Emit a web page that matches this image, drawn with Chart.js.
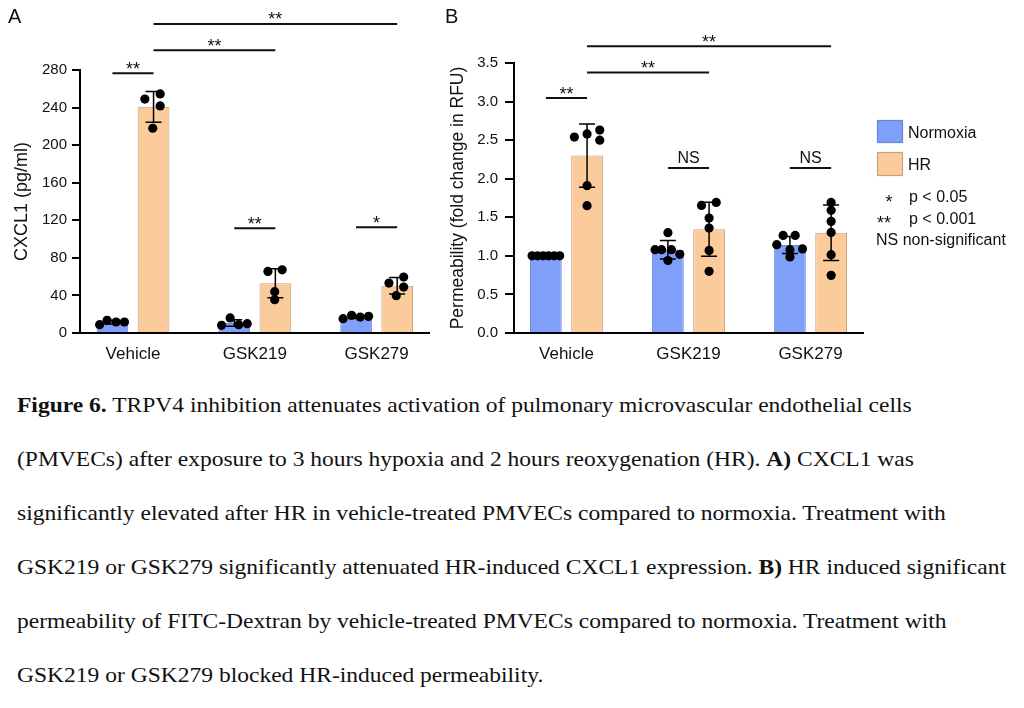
<!DOCTYPE html>
<html>
<head>
<meta charset="utf-8">
<script src="https://cdn.jsdelivr.net/npm/chart.js@4.4.1/dist/chart.umd.min.js"></script>
<style>
html,body{margin:0;padding:0;background:#fff;}
#wrap{position:relative;width:1024px;height:708px;overflow:hidden;background:#fff;}
#ca{position:absolute;left:0;top:0;}
#cb{position:absolute;left:440px;top:0;}
#cap{position:absolute;left:17px;top:378px;font-family:"Liberation Serif","Times New Roman",serif;font-size:21px;line-height:54.1px;color:#111;white-space:nowrap;transform:scaleX(1.12);transform-origin:0 0;}
#cap div{height:54.1px;}
</style>
</head>
<body>
<div id="wrap">
<canvas id="ca" width="440" height="375"></canvas>
<canvas id="cb" width="584" height="375"></canvas>
<div id="cap">
<div><b>Figure 6.</b> TRPV4 inhibition attenuates activation of pulmonary microvascular endothelial cells</div>
<div>(PMVECs) after exposure to 3 hours hypoxia and 2 hours reoxygenation (HR). <b>A)</b> CXCL1 was</div>
<div>significantly elevated after HR in vehicle-treated PMVECs compared to normoxia. Treatment with</div>
<div>GSK219 or GSK279 significantly attenuated HR-induced CXCL1 expression. <b>B)</b> HR induced significant</div>
<div>permeability of FITC-Dextran by vehicle-treated PMVECs compared to normoxia. Treatment with</div>
<div>GSK219 or GSK279 blocked HR-induced permeability.</div>
</div>
</div>
<script>
// ---------- data ----------
const categories = ['Vehicle', 'GSK219', 'GSK279'];
const seriesNames = ['Normoxia', 'HR'];

// Panel A: CXCL1 (pg/ml)
const cxclTicks = [0, 40, 80, 120, 160, 200, 240, 280];
const cxclNormoxiaMean = [11.5, 10.7, 17.0];
const cxclHRMean = [240.8, 53.0, 50.3];
const cxclNormoxiaSD = [2.0, 3.5, 1.5];
const cxclHRSD = [16.3, 15.5, 8.8];
const cxclNormoxiaPoints = [[8.9, 13.5, 11.7, 11.7], [8.2, 16.0, 8.9, 9.9], [15.2, 18.8, 17.0, 17.7]];
const cxclHRPoints = [[249.0, 254.5, 241.7, 218.0], [65.6, 67.3, 44.0, 35.4], [53.2, 59.5, 48.9, 39.7]];

// Panel B: Permeability (fold change in RFU)
const permTicks = [0, 0.5, 1.0, 1.5, 2.0, 2.5, 3.0, 3.5];
const permNormoxiaMean = [1.0, 1.08, 1.14];
const permHRMean = [2.30, 1.345, 1.30];
const permNormoxiaSD = [0, 0.12, 0.11];
const permHRSD = [0.41, 0.35, 0.36];
const permNormoxiaPoints = [[1, 1, 1, 1, 1, 1], [1.30, 1.08, 1.08, 1.08, 1.02, 0.94], [1.145, 1.265, 1.265, 1.09, 1.08, 0.985]];
const permHRPoints = [[2.54, 2.58, 2.63, 2.50, 1.91, 1.65], [1.654, 1.693, 1.49, 1.36, 1.07, 0.80], [1.693, 1.59, 1.447, 1.304, 1.015, 0.747]];

// significance annotations: [group, series] -> [group, series]
const cxclSig = [
  {from: [0, 0], to: [0, 1], y: 276.5, label: '**'},
  {from: [0, 1], to: [1, 1], y: 301, label: '**'},
  {from: [0, 1], to: [2, 1], y: 329, label: '**'},
  {from: [1, 0], to: [1, 1], y: 111.5, label: '**'},
  {from: [2, 0], to: [2, 1], y: 112.5, label: '*'}
];
const permSig = [
  {from: [0, 0], to: [0, 1], y: 3.046, label: '**'},
  {from: [0, 1], to: [1, 1], y: 3.378, label: '**'},
  {from: [0, 1], to: [2, 1], y: 3.716, label: '**'},
  {from: [1, 0], to: [1, 1], y: 2.14, label: 'NS'},
  {from: [2, 0], to: [2, 1], y: 2.14, label: 'NS'}
];

// horizontal spread of replicate dots (fraction of half bar width)
const cxclNormoxiaJitter = [[-0.81, -0.34, 0.23, 0.76], [-0.8, -0.26, 0.28, 0.82], [-0.82, -0.28, 0.26, 0.79]];
const cxclHRJitter = [[-0.55, 0.42, 0.42, -0.05], [-0.47, 0.43, -0.04, -0.04], [-0.52, 0.41, 0.41, -0.06]];
const permNormoxiaJitter = [[-0.87, -0.52, -0.17, 0.17, 0.52, 0.87], [0, -0.81, -0.4, 0.22, 0.75, 0], [-0.83, -0.43, 0.33, 0.79, 0, 0]];
const permHRJitter = [[-0.8, 0, 0.8, 0.8, 0, 0], [-0.48, 0.45, 0, 0, 0, 0], [0, 0, 0, 0, 0, 0]];

// ---------- style ----------
const FONT = '"Liberation Sans", Arial, Helvetica, sans-serif';
const INK = '#111';
const CAT_PCT = 0.675, BAR_PCT = 0.77;
const COLORS = {norm: '#7f9ffa', normBorder: '#6a86dc', hr: '#fbcb9c', hrBorder: '#c6a280'};

function barData(means) { return means.map((v, i) => ({x: i, y: v})); }
function dotData(points, jitter, side) {
  const off = side * CAT_PCT / 4, half = CAT_PCT * BAR_PCT / 4;
  const out = [];
  points.forEach((arr, i) => arr.forEach((v, k) => out.push({x: i + off + jitter[i][k] * half, y: v})));
  return out;
}

function annotPlugin(cfg) {
  return {
    id: 'annot_' + cfg.letter,
    afterDatasetsDraw(chart) {
      const ctx = chart.ctx, ys = chart.scales.y;
      ctx.save();
      ctx.strokeStyle = '#000';
      ctx.lineWidth = 1.5;
      cfg.sds.forEach((sdArr, ds) => {
        const meta = chart.getDatasetMeta(ds);
        meta.data.forEach((bar, i) => {
          const sd = sdArr[i];
          if (!sd) return;
          const m = chart.data.datasets[ds].data[i].y;
          const yt = ys.getPixelForValue(m + sd), yb = ys.getPixelForValue(m - sd);
          ctx.beginPath();
          ctx.moveTo(bar.x, yt); ctx.lineTo(bar.x, yb);
          ctx.moveTo(bar.x - 8, yt); ctx.lineTo(bar.x + 8, yt);
          ctx.moveTo(bar.x - 8, yb); ctx.lineTo(bar.x + 8, yb);
          ctx.stroke();
        });
      });
      ctx.restore();
    },
    afterDraw(chart) {
      const ctx = chart.ctx, ys = chart.scales.y;
      ctx.save();
      // significance brackets
      cfg.sig.forEach(b => {
        const x1 = chart.getDatasetMeta(b.from[1]).data[b.from[0]].x;
        const x2 = chart.getDatasetMeta(b.to[1]).data[b.to[0]].x;
        const yy = ys.getPixelForValue(b.y);
        ctx.strokeStyle = INK; ctx.lineWidth = 2;
        ctx.beginPath(); ctx.moveTo(x1, yy); ctx.lineTo(x2, yy); ctx.stroke();
        ctx.fillStyle = INK; ctx.textAlign = 'center'; ctx.textBaseline = 'alphabetic';
        if (b.label === 'NS') {
          ctx.font = '16px ' + FONT;
          ctx.fillText(b.label, (x1 + x2) / 2, yy - 5);
        } else {
          ctx.font = '18px ' + FONT;
          ctx.fillText(b.label, (x1 + x2) / 2, yy + 1.5);
        }
      });
      // panel letter
      ctx.fillStyle = INK; ctx.textAlign = 'left'; ctx.textBaseline = 'alphabetic';
      ctx.font = '20px ' + FONT;
      ctx.fillText(cfg.letter, cfg.letterX, 23);
      // key
      if (cfg.legend) {
        const L = cfg.legend;
        ctx.lineWidth = 1.2;
        ctx.fillStyle = COLORS.norm; ctx.fillRect(L.x, 120, 26, 23);
        ctx.strokeStyle = COLORS.normBorder; ctx.strokeRect(L.x + 0.5, 120.5, 25, 22);
        ctx.fillStyle = COLORS.hr; ctx.fillRect(L.x, 152, 26, 24);
        ctx.strokeStyle = COLORS.hrBorder; ctx.strokeRect(L.x + 0.5, 152.5, 25, 23);
        ctx.fillStyle = INK; ctx.font = '16px ' + FONT; ctx.textAlign = 'left';
        ctx.fillText(seriesNames[0], L.x + 31, 137.5);
        ctx.fillText(seriesNames[1], L.x + 31, 169.5);
        ctx.fillText('p < 0.05', L.x + 32, 202);
        ctx.fillText('p < 0.001', L.x + 32, 224);
        ctx.fillText('NS non-significant', L.x - 1, 244.5);
        ctx.font = '18px ' + FONT; ctx.textAlign = 'center';
        ctx.fillText('*', L.x + 12, 207.5);
        ctx.fillText('**', L.x + 7, 229);
      }
      ctx.restore();
    }
  };
}

function makeChart(canvasId, o) {
  return new Chart(document.getElementById(canvasId), {
    type: 'bar',
    data: {
      datasets: [
        {label: seriesNames[0], data: barData(o.normMean), backgroundColor: COLORS.norm, borderColor: COLORS.normBorder, borderWidth: 1, order: 2,
         categoryPercentage: CAT_PCT, barPercentage: BAR_PCT},
        {label: seriesNames[1], data: barData(o.hrMean), backgroundColor: COLORS.hr, borderColor: COLORS.hrBorder, borderWidth: 1, order: 2,
         categoryPercentage: CAT_PCT, barPercentage: BAR_PCT},
        {type: 'scatter', label: seriesNames[0] + ' replicates', data: dotData(o.normPts, o.normJit, -1), backgroundColor: '#000', borderWidth: 0, pointRadius: 4.6, order: 1, clip: false},
        {type: 'scatter', label: seriesNames[1] + ' replicates', data: dotData(o.hrPts, o.hrJit, 1), backgroundColor: '#000', borderWidth: 0, pointRadius: 4.6, order: 1, clip: false}
      ]
    },
    options: {
      responsive: false,
      animation: false,
      devicePixelRatio: 1,
      layout: {padding: o.padding},
      plugins: {legend: {display: false}, tooltip: {enabled: false}},
      scales: {
        x: {
          type: 'linear', min: o.xMin, max: o.xMax, offset: false,
          afterFit(s) { s.height = 42; },
          afterBuildTicks(s) { s.ticks = categories.map((c, i) => ({value: i})); },
          ticks: {autoSkip: false, maxRotation: 0, padding: 11, color: INK, font: {family: FONT, size: 17}, callback: v => categories[v]},
          grid: {display: false, drawTicks: false},
          border: {display: true, color: '#000', width: 2}
        },
        y: {
          type: 'linear', min: o.ticks[0], max: o.ticks[o.ticks.length - 1],
          afterFit(s) { s.width = o.yWidth; },
          afterBuildTicks(s) { s.ticks = o.ticks.map(v => ({value: v})); },
          ticks: {padding: o.tickPad, color: INK, font: {family: FONT, size: 15}, callback: o.fmt},
          grid: {display: true, drawOnChartArea: false, drawTicks: true, tickLength: o.tickLen, color: '#000', lineWidth: 2},
          border: {display: true, color: '#000', width: 2},
          title: {display: true, text: o.yTitle, color: INK, font: {family: FONT, size: o.titleSize}, padding: {top: o.titlePad, bottom: 0}}
        }
      }
    },
    plugins: [annotPlugin(o.annot)]
  });
}

makeChart('ca', {
  normMean: cxclNormoxiaMean, hrMean: cxclHRMean,
  normPts: cxclNormoxiaPoints, hrPts: cxclHRPoints,
  normJit: cxclNormoxiaJitter, hrJit: cxclHRJitter,
  ticks: cxclTicks, fmt: v => String(v),
  yTitle: 'CXCL1 (pg/ml)', titleSize: 18, titlePad: 11,
  xMin: -0.435, xMax: 2.43, yWidth: 80, tickPad: 5, tickLen: 8,
  padding: {left: 0, top: 70, right: 11, bottom: 0},
  annot: {letter: 'A', letterX: 8, sds: [cxclNormoxiaSD, cxclHRSD], sig: cxclSig}
});

makeChart('cb', {
  normMean: permNormoxiaMean, hrMean: permHRMean,
  normPts: permNormoxiaPoints, hrPts: permHRPoints,
  normJit: permNormoxiaJitter, hrJit: permHRJitter,
  ticks: permTicks, fmt: v => Number(v).toFixed(1),
  yTitle: 'Permeability (fold change in RFU)', titleSize: 17.5, titlePad: 7.5,
  xMin: -0.43, xMax: 2.43, yWidth: 74, tickPad: 7, tickLen: 9,
  padding: {left: 0, top: 63, right: 161, bottom: 0},
  annot: {letter: 'B', letterX: 5, sds: [permNormoxiaSD, permHRSD], sig: permSig, legend: {x: 437}}
});
</script>
</body>
</html>
